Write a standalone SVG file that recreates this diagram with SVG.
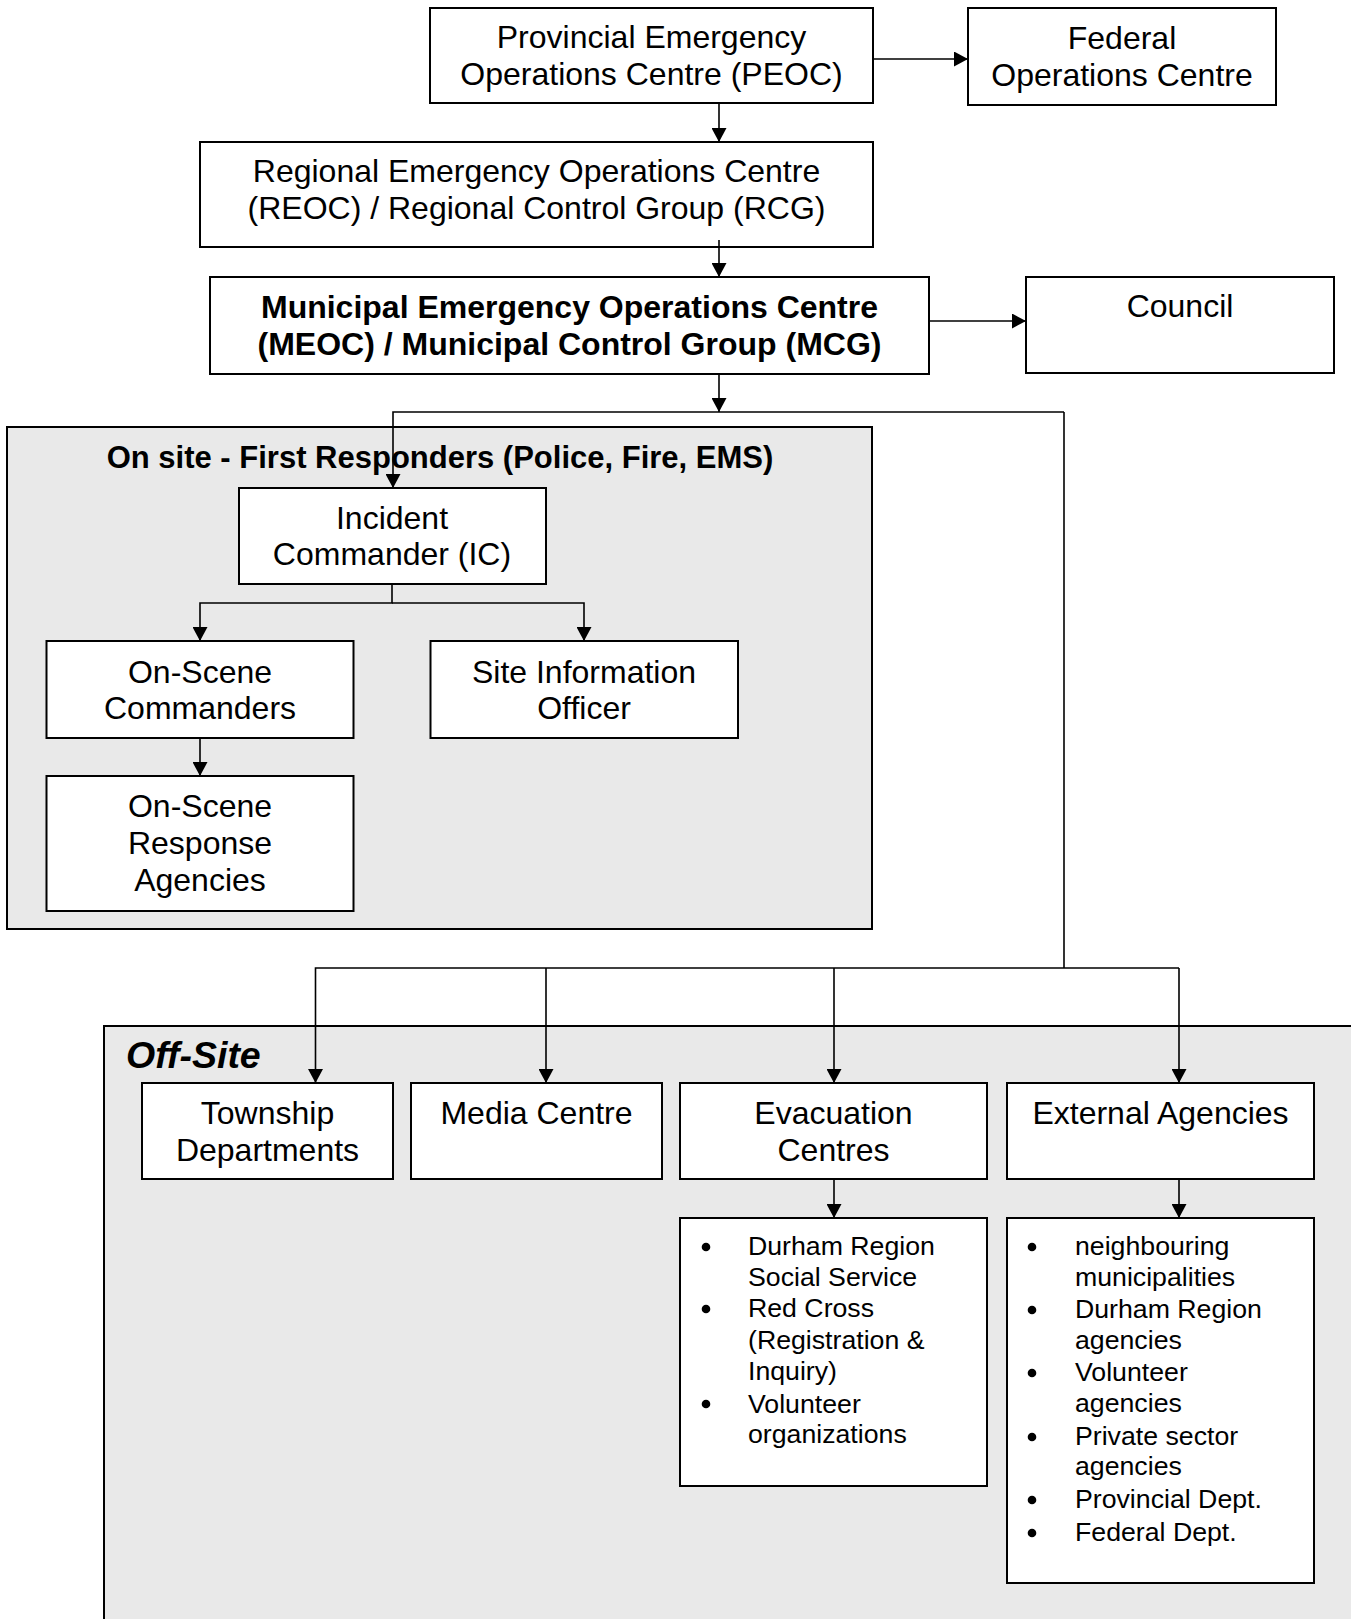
<svg xmlns="http://www.w3.org/2000/svg" width="1351" height="1619" viewBox="0 0 1351 1619">
<defs>
<marker id="ah" markerUnits="userSpaceOnUse" markerWidth="15" markerHeight="15" refX="14" refY="7.5" orient="auto">
<path d="M0,0 L14,7.5 L0,15 z" fill="#000"/>
</marker>
<style>
.box{fill:#fff;stroke:#000;stroke-width:2}
.grp{fill:#e9e9e9;stroke:#000;stroke-width:2}
.t{font-family:"Liberation Sans",Arial,sans-serif;font-size:32px;fill:#000;text-anchor:middle}
.s{font-size:31px}
.b{font-weight:bold}
.l{font-family:"Liberation Sans",Arial,sans-serif;font-size:26.7px;fill:#000}
.c{fill:none;stroke:#000;stroke-width:1.6}
.a{marker-end:url(#ah)}
</style>
</defs>
<rect width="1351" height="1619" fill="#fff"/>
<g id="onsite">
<rect class="grp" x="7" y="427" width="865" height="502"/>
<text class="t b s" x="440" y="468">On site - First Responders (Police, Fire, EMS)</text>
</g>
<g id="offsite">
<rect class="grp" x="104" y="1026" width="1260" height="610"/>
<text x="126" y="1068" style="font-family:'Liberation Sans',Arial,sans-serif;font-size:37.5px;font-weight:bold;font-style:italic">Off-Site</text>
</g>
<g id="peoc">
<rect class="box" x="430" y="8" width="443" height="95"/>
<text class="t" x="651.5" y="48">Provincial Emergency</text>
<text class="t" x="651.5" y="84.5">Operations Centre (PEOC)</text>
</g>
<g id="federal">
<rect class="box" x="968" y="8" width="308" height="97"/>
<text class="t" x="1122" y="49">Federal</text>
<text class="t" x="1122" y="86">Operations Centre</text>
</g>
<g id="reoc">
<rect class="box" x="200" y="142" width="673" height="105"/>
<text class="t" x="536.5" y="182">Regional Emergency Operations Centre</text>
<text class="t" x="536.5" y="219">(REOC) / Regional Control Group (RCG)</text>
</g>
<g id="meoc">
<rect class="box" x="210" y="277" width="719" height="97"/>
<text class="t b" x="569.5" y="318">Municipal Emergency Operations Centre</text>
<text class="t b" x="569.5" y="355">(MEOC) / Municipal Control Group (MCG)</text>
</g>
<g id="council">
<rect class="box" x="1026" y="277" width="308" height="96"/>
<text class="t" x="1180" y="317">Council</text>
</g>
<g id="ic">
<rect class="box" x="239" y="488" width="307" height="96"/>
<text class="t" x="392" y="529">Incident</text>
<text class="t" x="392" y="565">Commander (IC)</text>
</g>
<g id="osc">
<rect class="box" x="46.5" y="641" width="307" height="97"/>
<text class="t" x="200" y="683">On-Scene</text>
<text class="t" x="200" y="719">Commanders</text>
</g>
<g id="sio">
<rect class="box" x="430.5" y="641" width="307.5" height="97"/>
<text class="t" x="584" y="683">Site Information</text>
<text class="t" x="584" y="719">Officer</text>
</g>
<g id="osra">
<rect class="box" x="46.5" y="776" width="307" height="135"/>
<text class="t" x="200" y="817">On-Scene</text>
<text class="t" x="200" y="854">Response</text>
<text class="t" x="200" y="891">Agencies</text>
</g>
<g id="township">
<rect class="box" x="142" y="1083" width="251" height="96"/>
<text class="t" x="267.5" y="1124">Township</text>
<text class="t" x="267.5" y="1161">Departments</text>
</g>
<g id="media">
<rect class="box" x="411" y="1083" width="251" height="96"/>
<text class="t" x="536.5" y="1124">Media Centre</text>
</g>
<g id="evac">
<rect class="box" x="680" y="1083" width="307" height="96"/>
<text class="t" x="833.5" y="1124">Evacuation</text>
<text class="t" x="833.5" y="1161">Centres</text>
</g>
<g id="external">
<rect class="box" x="1007" y="1083" width="307" height="96"/>
<text class="t" x="1160.5" y="1124">External Agencies</text>
</g>
<g id="evaclist">
<rect class="box" x="680" y="1218" width="307" height="268"/>
<circle cx="706" cy="1247" r="4.3"/>
<circle cx="706" cy="1309" r="4.3"/>
<circle cx="706" cy="1404" r="4.3"/>
<text class="l" x="748" y="1255">Durham Region</text>
<text class="l" x="748" y="1285.5">Social Service</text>
<text class="l" x="748" y="1317">Red Cross</text>
<text class="l" x="748" y="1348.5">(Registration &amp;</text>
<text class="l" x="748" y="1380">Inquiry)</text>
<text class="l" x="748" y="1412.5">Volunteer</text>
<text class="l" x="748" y="1443">organizations</text>
</g>
<g id="extlist">
<rect class="box" x="1007" y="1218" width="307" height="365"/>
<circle cx="1032" cy="1247" r="4.3"/>
<circle cx="1032" cy="1310" r="4.3"/>
<circle cx="1032" cy="1373" r="4.3"/>
<circle cx="1032" cy="1437" r="4.3"/>
<circle cx="1032" cy="1500" r="4.3"/>
<circle cx="1032" cy="1533" r="4.3"/>
<text class="l" x="1075" y="1255">neighbouring</text>
<text class="l" x="1075" y="1285.5">municipalities</text>
<text class="l" x="1075" y="1318">Durham Region</text>
<text class="l" x="1075" y="1348.5">agencies</text>
<text class="l" x="1075" y="1381">Volunteer</text>
<text class="l" x="1075" y="1411.5">agencies</text>
<text class="l" x="1075" y="1445">Private sector</text>
<text class="l" x="1075" y="1475">agencies</text>
<text class="l" x="1075" y="1508">Provincial Dept.</text>
<text class="l" x="1075" y="1541">Federal Dept.</text>
</g>
<g id="connectors">
<line class="c a" x1="873" y1="59" x2="968" y2="59"/>
<line class="c a" x1="719" y1="103" x2="719" y2="142"/>
<line class="c a" x1="719" y1="240" x2="719" y2="277"/>
<line class="c a" x1="929" y1="321" x2="1026" y2="321"/>
<line class="c a" x1="719" y1="374" x2="719" y2="412"/>
<polyline class="c a" points="1064,412 393,412 393,488"/>
<polyline class="c" points="1064,412 1064,968"/>
<polyline class="c a" points="1179,968 315.5,968 315.5,1083"/>
<line class="c a" x1="1179" y1="968" x2="1179" y2="1083"/>
<line class="c a" x1="546" y1="968" x2="546" y2="1083"/>
<line class="c a" x1="834" y1="968" x2="834" y2="1083"/>
<polyline class="c a" points="392,584 392,603 200,603 200,641"/>
<polyline class="c a" points="392,603 584,603 584,641"/>
<line class="c a" x1="200" y1="738" x2="200" y2="776"/>
<line class="c a" x1="834" y1="1179" x2="834" y2="1218"/>
<line class="c a" x1="1179" y1="1179" x2="1179" y2="1218"/>
</g>
</svg>
